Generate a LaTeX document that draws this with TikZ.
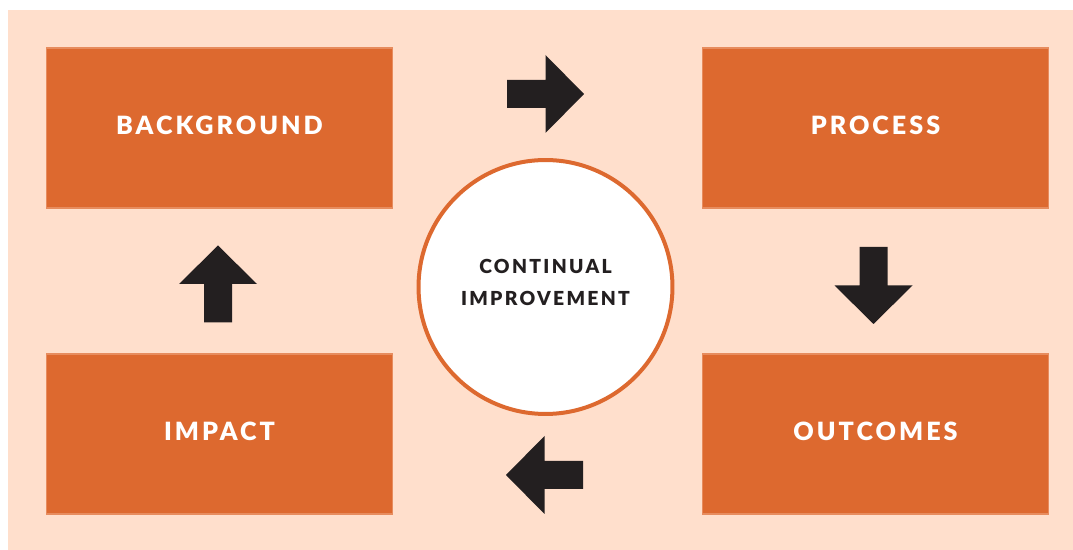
\documentclass[tikz,border=0pt]{standalone}
\usepackage{fontspec}
\setmainfont{Lato}
\newfontfamily\labelfont[LetterSpace=12]{Lato Black}
\usepackage{xcolor}
\definecolor{peach}{HTML}{FFDFCC}
\definecolor{burnt}{HTML}{DD692F}
\definecolor{ink}{HTML}{231F20}
\tikzset{
	stage/.style={
			fill=burnt, draw=burnt!70!peach, line width=0.6pt,
			minimum width=6.94cm, minimum height=3.2cm, inner sep=0pt,
			text depth=0.12cm,
			text=white, font=\labelfont\fontsize{14.3}{17}\selectfont
		},
	hub/.style={
			circle, fill=white, draw=burnt, line width=0.08cm,
			minimum size=5.08cm, inner sep=0pt, align=center,
			text depth=0.2cm,
			text=ink, font=\labelfont\fontsize{11}{18.2}\selectfont
		},
	blockarrow/.pic={
			\fill[ink] (-38.5,-14) -- (0,-14) -- (0,-39) -- (38.5,0)
			-- (0,39) -- (0,14) -- (-38.5,14) -- cycle;
		}
}

\begin{document}
\begin{tikzpicture}[x=0.02cm, y=-0.02cm]
			% Page and backdrop
			\useasboundingbox (0,0) rectangle (1073,550);
			\fill[peach] (8,10) rectangle (1073,550);

			% Four stages
			\node[stage] (background) at (219.5,128) {BACKGROUND};
			\node[stage] (process) at (875.5,128) {PROCESS};
			\node[stage] (outcomes) at (875.5,434) {OUTCOMES};
			\node[stage] (impact) at (219.5,434) {IMPACT};

			% Centre
			\node[hub] (improve) at (545.5,287) {CONTINUAL\\IMPROVEMENT};

			% Cycle arrows
			\pic at (545.5,94) {blockarrow};
			\pic[rotate=-90] at (873.5,285.5) {blockarrow};
			\pic[rotate=180] at (544.5,475) {blockarrow};
			\pic[rotate=90] at (218,284) {blockarrow};
		\end{tikzpicture}
\end{document}
